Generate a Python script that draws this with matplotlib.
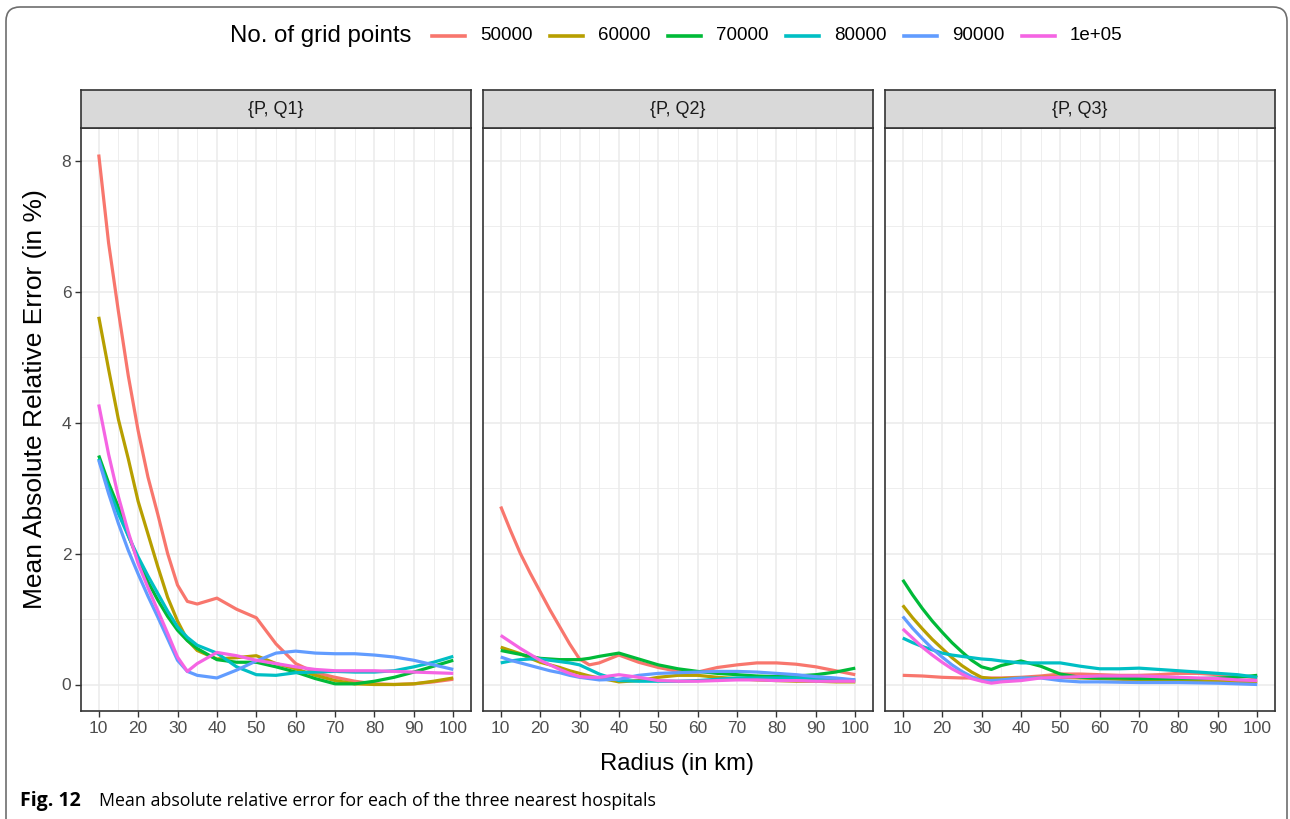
import matplotlib
matplotlib.use("Agg")
import matplotlib.pyplot as plt
from matplotlib.lines import Line2D
from matplotlib.patches import FancyBboxPatch
from matplotlib.transforms import IdentityTransform

# ---------------- data ----------------
radius = [10, 12.5, 15, 17.5, 20, 22.5, 25, 27.5, 30, 32.5, 35,
          40, 45, 50, 55, 60, 65, 70, 75, 80, 85, 90, 95, 100]
series_names = ["50000", "60000", "70000", "80000", "90000", "1e+05"]
series_colors = ["#F8766D", "#B79F00", "#00BA38", "#00BFC4", "#619CFF", "#F564E3"]
facet_labels = ["{P, Q1}", "{P, Q2}", "{P, Q3}"]

q1_50000 = [8.1, 6.75, 5.7, 4.72, 3.88, 3.17, 2.6, 2.0, 1.52, 1.27, 1.23,
            1.32, 1.15, 1.02, 0.62, 0.32, 0.18, 0.11, 0.05, 0.01, 0.0, 0.01, 0.04, 0.08]
q1_60000 = [5.62, 4.82, 4.05, 3.45, 2.8, 2.3, 1.8, 1.33, 0.97, 0.68, 0.52,
            0.39, 0.41, 0.44, 0.32, 0.24, 0.14, 0.06, 0.01, 0.0, 0.0, 0.01, 0.05, 0.1]
q1_70000 = [3.5, 3.08, 2.71, 2.28, 1.9, 1.57, 1.29, 1.04, 0.83, 0.67, 0.55,
            0.38, 0.34, 0.34, 0.27, 0.19, 0.09, 0.01, 0.01, 0.05, 0.11, 0.19, 0.28, 0.37]
q1_80000 = [3.45, 3.0, 2.61, 2.27, 1.95, 1.66, 1.39, 1.12, 0.88, 0.72, 0.6,
            0.48, 0.27, 0.15, 0.14, 0.18, 0.19, 0.2, 0.19, 0.19, 0.21, 0.27, 0.34, 0.43]
q1_90000 = [3.43, 2.92, 2.46, 2.05, 1.69, 1.35, 1.03, 0.7, 0.37, 0.2, 0.14,
            0.10, 0.22, 0.36, 0.48, 0.51, 0.48, 0.47, 0.47, 0.45, 0.42, 0.37, 0.30, 0.23]
q1_100000 = [4.28, 3.52, 2.87, 2.33, 1.85, 1.48, 1.13, 0.78, 0.42, 0.2, 0.32,
             0.49, 0.44, 0.37, 0.32, 0.27, 0.23, 0.21, 0.21, 0.21, 0.2, 0.19, 0.18, 0.17]

q2_50000 = [2.72, 2.35, 2.0, 1.7, 1.42, 1.14, 0.88, 0.62, 0.39, 0.3, 0.33,
            0.45, 0.34, 0.26, 0.2, 0.19, 0.26, 0.3, 0.33, 0.33, 0.31, 0.27, 0.21, 0.15]
q2_60000 = [0.57, 0.52, 0.47, 0.40, 0.34, 0.30, 0.26, 0.21, 0.17, 0.13, 0.10,
            0.04, 0.06, 0.11, 0.14, 0.14, 0.11, 0.09, 0.07, 0.06, 0.05, 0.05, 0.04, 0.04]
q2_70000 = [0.52, 0.49, 0.46, 0.43, 0.40, 0.39, 0.38, 0.38, 0.38, 0.40, 0.43,
            0.48, 0.39, 0.30, 0.24, 0.20, 0.17, 0.15, 0.13, 0.12, 0.13, 0.15, 0.19, 0.25]
q2_80000 = [0.33, 0.36, 0.38, 0.39, 0.39, 0.37, 0.35, 0.33, 0.30, 0.23, 0.16,
            0.06, 0.05, 0.05, 0.05, 0.06, 0.08, 0.10, 0.10, 0.10, 0.10, 0.09, 0.08, 0.07]
q2_90000 = [0.42, 0.37, 0.33, 0.29, 0.25, 0.21, 0.18, 0.14, 0.11, 0.09, 0.07,
            0.08, 0.14, 0.17, 0.18, 0.19, 0.20, 0.20, 0.19, 0.17, 0.15, 0.12, 0.10, 0.07]
q2_100000 = [0.75, 0.65, 0.55, 0.46, 0.37, 0.30, 0.23, 0.17, 0.12, 0.11, 0.11,
             0.15, 0.11, 0.06, 0.05, 0.05, 0.06, 0.07, 0.07, 0.06, 0.06, 0.05, 0.05, 0.05]

q3_50000 = [0.14, 0.135, 0.13, 0.12, 0.11, 0.105, 0.10, 0.10, 0.10, 0.10, 0.10,
            0.11, 0.13, 0.16, 0.16, 0.15, 0.14, 0.14, 0.15, 0.17, 0.17, 0.15, 0.13, 0.10]
q3_60000 = [1.21, 1.02, 0.85, 0.69, 0.55, 0.41, 0.29, 0.19, 0.11, 0.09, 0.09,
            0.10, 0.11, 0.11, 0.10, 0.09, 0.08, 0.07, 0.065, 0.06, 0.055, 0.05, 0.045, 0.04]
q3_70000 = [1.6, 1.37, 1.16, 0.97, 0.8, 0.64, 0.5, 0.37, 0.27, 0.23, 0.29,
            0.36, 0.28, 0.16, 0.11, 0.10, 0.10, 0.09, 0.09, 0.09, 0.09, 0.10, 0.11, 0.14]
q3_80000 = [0.71, 0.64, 0.58, 0.53, 0.48, 0.45, 0.43, 0.41, 0.39, 0.38, 0.36,
            0.33, 0.33, 0.33, 0.28, 0.24, 0.24, 0.25, 0.23, 0.21, 0.19, 0.17, 0.15, 0.11]
q3_90000 = [1.04, 0.86, 0.70, 0.55, 0.42, 0.30, 0.20, 0.12, 0.06, 0.06, 0.07,
            0.10, 0.10, 0.06, 0.04, 0.04, 0.035, 0.03, 0.03, 0.03, 0.025, 0.02, 0.01, 0.0]
q3_100000 = [0.85, 0.71, 0.57, 0.45, 0.34, 0.24, 0.16, 0.09, 0.05, 0.02, 0.04,
             0.06, 0.10, 0.11, 0.12, 0.13, 0.13, 0.13, 0.12, 0.11, 0.10, 0.09, 0.07, 0.06]

facet_data = [
    [q1_50000, q1_60000, q1_70000, q1_80000, q1_90000, q1_100000],
    [q2_50000, q2_60000, q2_70000, q2_80000, q2_90000, q2_100000],
    [q3_50000, q3_60000, q3_70000, q3_80000, q3_90000, q3_100000],
]
x_ticks = [10, 20, 30, 40, 50, 60, 70, 80, 90, 100]
y_ticks = [0, 2, 4, 6, 8]

# ---------------- layout ----------------
W, H = 1290, 819
plt.rcParams["font.family"] = ["Liberation Sans", "DejaVu Sans"]
fig = plt.figure(figsize=(W / 100, H / 100), dpi=100)
fig.patch.set_facecolor("white")

def fx(px):
    return px / W

def fy(py):
    return 1 - py / H

panel_lefts = [81, 483, 885]
panel_w = 390
panel_top, panel_bot = 128, 711
strip_top = 90
border_col = "#333333"
grid_col = "#EBEBEB"

axes = []
for i, left in enumerate(panel_lefts):
    ax = fig.add_axes([fx(left), fy(panel_bot), panel_w / W, (panel_bot - panel_top) / H])
    axes.append(ax)
    for vals, c in zip(facet_data[i], series_colors):
        ax.plot(radius, vals, color=c, lw=2.3, solid_capstyle="butt",
                solid_joinstyle="round", zorder=3)
    ax.set_xlim(5.5, 104.5)
    ax.set_ylim(-0.405, 8.505)
    ax.set_xticks(x_ticks)
    ax.set_xticks([15, 25, 35, 45, 55, 65, 75, 85, 95], minor=True)
    ax.set_yticks(y_ticks)
    ax.set_yticks([1, 3, 5, 7], minor=True)
    ax.grid(True, which="major", color=grid_col, lw=1.1, zorder=0)
    ax.grid(True, which="minor", color=grid_col, lw=0.6, zorder=0)
    ax.set_axisbelow(True)
    for s in ax.spines.values():
        s.set_color(border_col)
        s.set_linewidth(1.2)
    ax.tick_params(axis="both", which="major", length=4, width=1.0, color=border_col,
                   labelsize=12.5, labelcolor="#4D4D4D", pad=3)
    ax.tick_params(axis="both", which="minor", length=0)
    if i > 0:
        ax.tick_params(axis="y", which="both", length=0, labelleft=False)

    # strip
    sax = fig.add_axes([fx(left), fy(panel_top), panel_w / W, (panel_top - strip_top) / H])
    sax.set_facecolor("#D9D9D9")
    sax.set_xticks([])
    sax.set_yticks([])
    for s in sax.spines.values():
        s.set_color(border_col)
        s.set_linewidth(1.2)
    sax.text(0.5, 0.5, facet_labels[i], ha="center", va="center", fontsize=13,
             color="#1A1A1A", transform=sax.transAxes)

# axis titles
fig.text(fx(677), fy(764), "Radius (in km)", ha="center", va="center", fontsize=17.2)
fig.text(fx(35), fy(399), "Mean Absolute Relative Error (in %)", ha="center", va="center",
         rotation=90, fontsize=19)

# legend
fig.text(fx(230), fy(36), "No. of grid points", ha="left", va="center", fontsize=17.3)
for k, (name, c) in enumerate(zip(series_names, series_colors)):
    x0 = 432 + 118 * k
    fig.add_artist(Line2D([fx(x0), fx(x0 + 33)], [fy(36), fy(36)], color=c, lw=2.6,
                          transform=fig.transFigure))
    fig.text(fx(x0 + 48), fy(36), name, ha="left", va="center", fontsize=13.5)

# caption
fig.text(fx(20), fy(801), "Fig. 12", ha="left", va="center", fontsize=14,
         fontweight="bold", family=["Open Sans", "DejaVu Sans"])
fig.text(fx(99), fy(801), "Mean absolute relative error for each of the three nearest hospitals",
         ha="left", va="center", fontsize=12.8, family=["Open Sans", "DejaVu Sans"])

# outer rounded frame
frame = FancyBboxPatch((6, -30), 1281, H - 6 + 30 - 1, boxstyle="round,pad=0,rounding_size=14",
                       transform=IdentityTransform(), fill=False, ec="#6E6E6E", lw=1.2)
fig.add_artist(frame)

fig.savefig("out.png", dpi=100)
